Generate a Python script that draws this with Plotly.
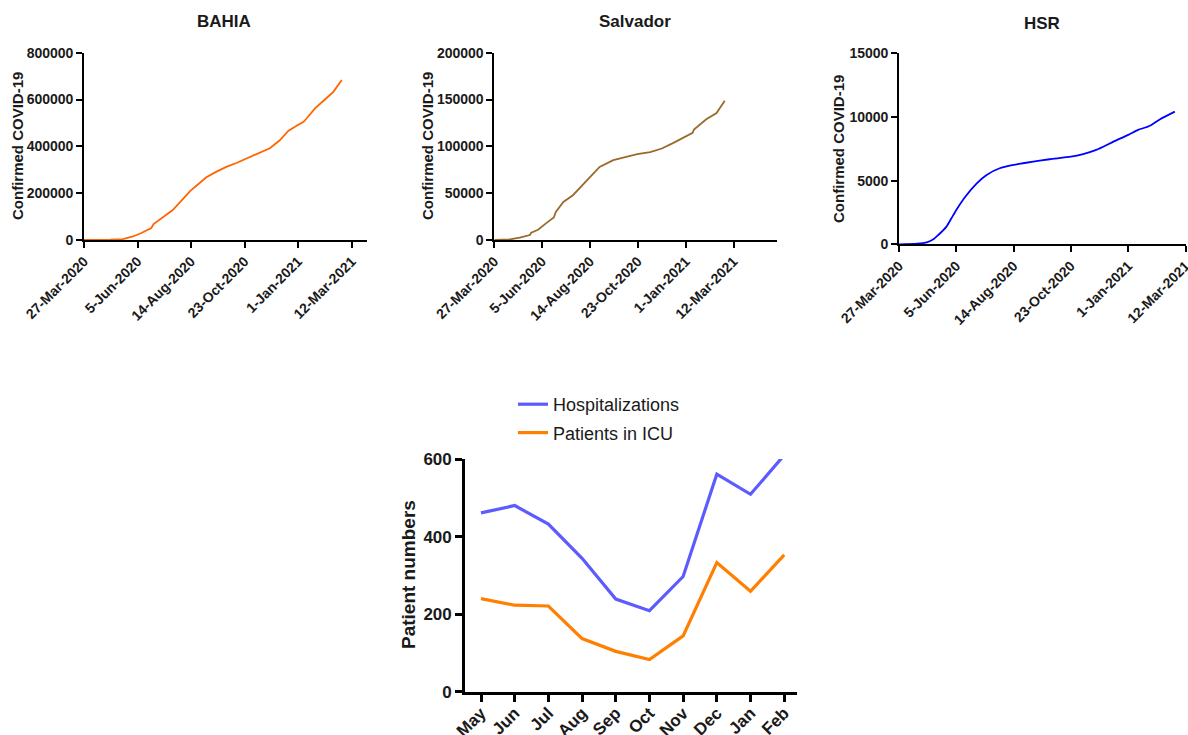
import plotly.graph_objects as go

# ---------------- data ----------------
bahia_dates = ["2020-03-27", "2020-04-16", "2020-04-30", "2020-05-17", "2020-05-30", "2020-06-10",
               "2020-06-23", "2020-06-26", "2020-07-05", "2020-07-21", "2020-07-30", "2020-08-13",
               "2020-08-24", "2020-09-03", "2020-09-15", "2020-09-29", "2020-10-13", "2020-10-23",
               "2020-11-03", "2020-11-14", "2020-11-25", "2020-12-08", "2020-12-19", "2020-12-31",
               "2021-01-08", "2021-01-12", "2021-01-23", "2021-02-05", "2021-02-16", "2021-02-27"]
bahia_cases = [0, 300, 1000, 4000, 15000, 30000,
               51000, 68000, 90000, 128000, 160000, 210000,
               240000, 268000, 290000, 312000, 330000, 344000,
               361000, 375000, 392000, 426000, 466000, 490000,
               505000, 519000, 562000, 600000, 633000, 683000]

salvador_dates = ["2020-03-27", "2020-04-19", "2020-05-03", "2020-05-18", "2020-05-20", "2020-05-30",
                  "2020-06-11", "2020-06-22", "2020-06-25", "2020-07-06", "2020-07-20", "2020-08-01",
                  "2020-08-14", "2020-08-28", "2020-09-17", "2020-10-06", "2020-10-22", "2020-11-10",
                  "2020-11-27", "2020-12-14", "2021-01-01", "2021-01-11", "2021-01-13", "2021-01-31",
                  "2021-02-15", "2021-02-27"]
salvador_cases = [0, 700, 2500, 5300, 7800, 11000,
                  18000, 24000, 30000, 40600, 47800, 57400,
                  67400, 78000, 85200, 88800, 91600, 93800,
                  97700, 103700, 110200, 114400, 118000, 129000,
                  135500, 148700]

hsr_dates = ["2020-03-27", "2020-04-18", "2020-04-30", "2020-05-08", "2020-05-14", "2020-05-24",
             "2020-05-30", "2020-06-05", "2020-06-16", "2020-06-30", "2020-07-12", "2020-07-28",
             "2020-08-14", "2020-09-07", "2020-09-27", "2020-10-23", "2020-11-07", "2020-11-23",
             "2020-12-14", "2021-01-01", "2021-01-13", "2021-01-27", "2021-02-09", "2021-02-27"]
hsr_cases = [0, 50, 157, 390, 730, 1390,
             2040, 2700, 3740, 4790, 5450, 5970,
             6230, 6490, 6680, 6880, 7090, 7410,
             8060, 8590, 8980, 9290, 9820, 10420]

date_tick_vals = ["2020-03-27", "2020-06-05", "2020-08-14", "2020-10-23", "2021-01-01", "2021-03-12"]
date_tick_text = ["27-Mar-2020", "5-Jun-2020", "14-Aug-2020", "23-Oct-2020", "1-Jan-2021", "12-Mar-2021"]

months = ["May", "Jun", "Jul", "Aug", "Sep", "Oct", "Nov", "Dec", "Jan", "Feb"]
hospitalizations = [461, 480, 432, 344, 239, 209, 297, 561, 509, 610]
icu_patients = [240, 223, 221, 137, 104, 83, 144, 333, 259, 353]

panel_titles = ["BAHIA", "Salvador", "HSR"]
top_ytitle = "Confirmed COVID-19"
bottom_ytitle = "Patient numbers"

# ---------------- style ----------------
FONT = "Liberation Sans, Arial, sans-serif"
INK = "#1a1a1a"
W, H = 1188, 735

def px_x(p):
    return p / W

def px_y(p):
    return 1 - p / H

fig = go.Figure()

fig.add_trace(go.Scatter(x=bahia_dates, y=bahia_cases, mode="lines", xaxis="x", yaxis="y",
                         line=dict(color="#ff6600", width=1.8), showlegend=False))
fig.add_trace(go.Scatter(x=salvador_dates, y=salvador_cases, mode="lines", xaxis="x2", yaxis="y2",
                         line=dict(color="#9a6a2c", width=1.8), showlegend=False))
fig.add_trace(go.Scatter(x=hsr_dates, y=hsr_cases, mode="lines", xaxis="x3", yaxis="y3",
                         line=dict(color="#0000ff", width=1.8, shape="spline", smoothing=0.6),
                         showlegend=False))
fig.add_trace(go.Scatter(x=months, y=hospitalizations, mode="lines", xaxis="x4", yaxis="y4",
                         name="Hospitalizations", legendgroup="a",
                         line=dict(color="#5b5bff", width=3.2)))
fig.add_trace(go.Scatter(x=months, y=icu_patients, mode="lines", xaxis="x4", yaxis="y4",
                         name="Patients in ICU", legendgroup="b",
                         line=dict(color="#ff8000", width=3.2)))

tick_font_small = dict(family=FONT, size=14, color=INK, weight="bold")

def date_xaxis(domain, anchor, end):
    return dict(domain=domain, anchor=anchor, type="date",
                range=["2020-03-27", end],
                tickmode="array", tickvals=date_tick_vals, ticktext=date_tick_text,
                tickangle=-45, tickfont=tick_font_small, ticklabeloverflow="allow",
                showline=True, linecolor="black", linewidth=1.7,
                ticks="outside", ticklen=6, tickwidth=1.7, tickcolor="black",
                showgrid=False, zeroline=False, automargin=False)

def count_yaxis(domain, anchor, top, dtick):
    return dict(domain=domain, anchor=anchor, range=[0, top], dtick=dtick,
                tickformat="d", tickfont=tick_font_small,
                showline=True, linecolor="black", linewidth=1.7,
                ticks="outside", ticklen=6, tickwidth=1.7, tickcolor="black",
                showgrid=False, zeroline=False, automargin=False)

layout = dict(
    width=W, height=H,
    margin=dict(l=0, r=0, t=0, b=0),
    paper_bgcolor="white", plot_bgcolor="white",
    font=dict(family=FONT, color=INK),
    xaxis=date_xaxis([px_x(84), px_x(367)], "y", "2021-04-01"),
    yaxis=count_yaxis([px_y(240), px_y(52.7)], "x", 800000, 200000),
    xaxis2=date_xaxis([px_x(494.3), px_x(776.7)], "y2", "2021-05-14"),
    yaxis2=count_yaxis([px_y(240), px_y(52.7)], "x2", 200000, 50000),
    xaxis3=date_xaxis([px_x(899), px_x(1185.7)], "y3", "2021-03-12 06:00"),
    yaxis3=count_yaxis([px_y(244.3), px_y(53.3)], "x3", 15000, 5000),
    xaxis4=dict(domain=[px_x(465), px_x(797)], anchor="y4", type="category",
                range=[-0.475, 9.38], tickangle=-45,
                tickfont=dict(family=FONT, size=17, color=INK, weight="bold"),
                ticklabelstandoff=-5, ticklabeloverflow="allow",
                showline=True, linecolor="black", linewidth=2.7,
                ticks="outside", ticklen=7, tickwidth=2.5, tickcolor="black",
                showgrid=False, zeroline=False, automargin=False),
    yaxis4=dict(domain=[px_y(691.7), px_y(459)], anchor="x4", range=[0, 600], dtick=200,
                tickfont=dict(family=FONT, size=17, color=INK, weight="bold"),
                showline=True, linecolor="black", linewidth=2.7,
                ticks="outside", ticklen=7, tickwidth=2.5, tickcolor="black",
                showgrid=False, zeroline=False, automargin=False),
    legend=dict(x=px_x(513), y=px_y(386), xanchor="left", yanchor="top",
                font=dict(family=FONT, size=18, color=INK),
                bgcolor="rgba(0,0,0,0)", borderwidth=0,
                traceorder="grouped", tracegroupgap=2, itemwidth=30),
    showlegend=True,
)

title_pos = [(224, 22), (635, 22), (1042, 24)]
annotations = [
    dict(text=t, x=px_x(cx), y=px_y(cy), xref="paper", yref="paper",
         xanchor="center", yanchor="middle", showarrow=False,
         font=dict(family=FONT, size=17, color=INK, weight="bold"))
    for t, (cx, cy) in zip(panel_titles, title_pos)
]
ytitle_pos = [(18, 146), (428, 146), (838, 149)]
annotations += [
    dict(text=top_ytitle, x=px_x(cx), y=px_y(cy), xref="paper", yref="paper",
         xanchor="center", yanchor="middle", showarrow=False, textangle=-90,
         font=dict(family=FONT, size=15, color=INK, weight="bold"))
    for (cx, cy) in ytitle_pos
]
annotations.append(
    dict(text=bottom_ytitle, x=px_x(408), y=px_y(575), xref="paper", yref="paper",
         xanchor="center", yanchor="middle", showarrow=False, textangle=-90,
         font=dict(family=FONT, size=19, color=INK, weight="bold")))
layout["annotations"] = annotations

fig.update_layout(**layout)
fig.write_html("out.html")
